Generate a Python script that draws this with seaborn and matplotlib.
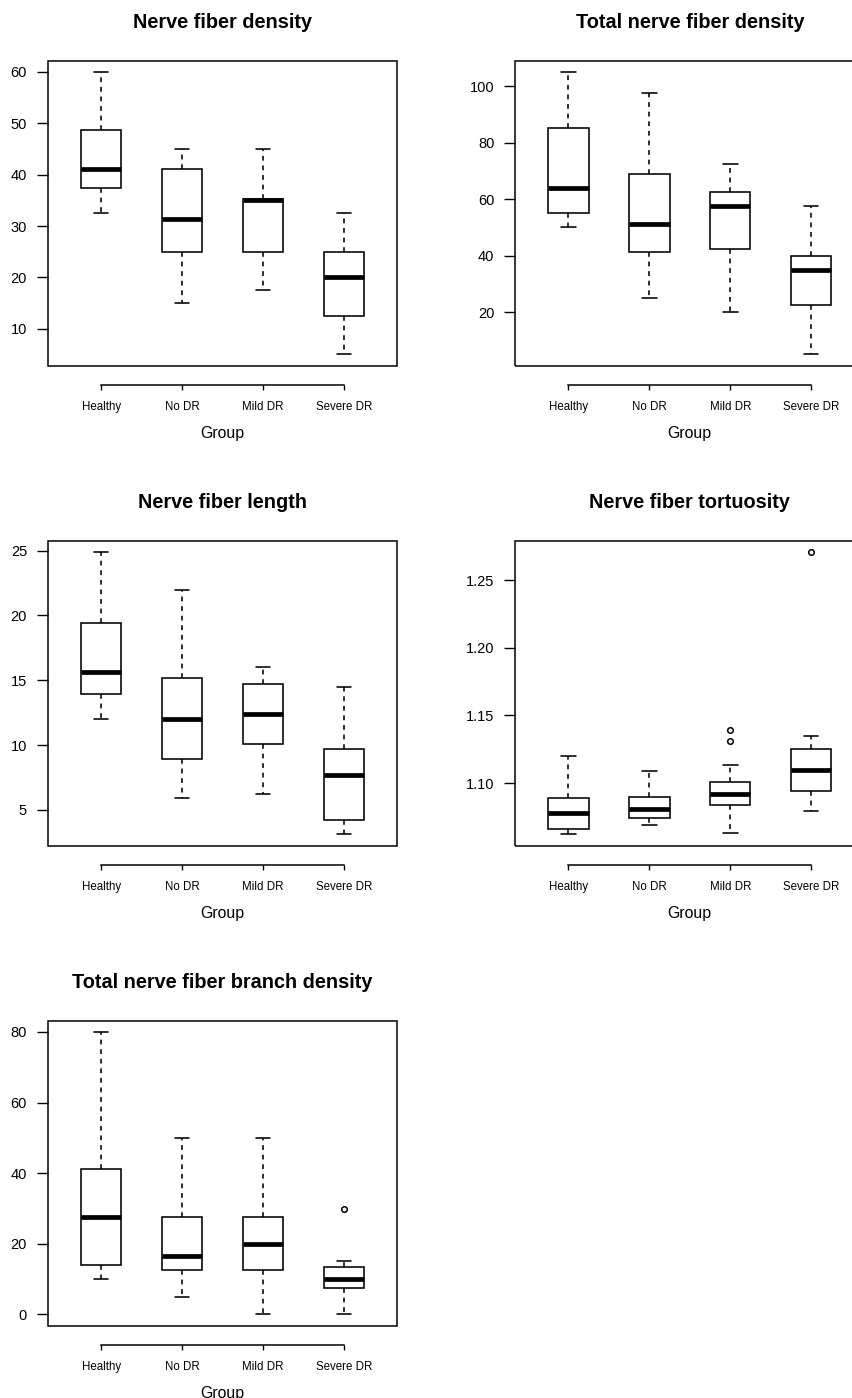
import seaborn as sns
import matplotlib.pyplot as plt
import matplotlib.patches as mpatches
import numpy as np
import pandas as pd

# groups on the x axis
groups = ["Healthy", "No DR", "Mild DR", "Severe DR"]

# box summaries, one row per group:
# [lower whisker, Q1, median, Q3, upper whisker]
nerve_fiber_density = [
    [32.5, 37.5, 41.2, 48.8, 60.0],
    [15.0, 25.0, 31.3, 41.2, 45.0],
    [17.5, 25.0, 35.0, 35.3, 45.0],
    [5.0, 12.5, 20.0, 25.0, 32.5],
]
nerve_fiber_density_out = [[], [], [], []]

total_nerve_fiber_density = [
    [50.0, 55.0, 63.8, 85.2, 105.0],
    [25.0, 41.2, 51.2, 68.8, 97.5],
    [20.0, 42.5, 57.5, 62.5, 72.5],
    [5.0, 22.5, 35.0, 40.0, 57.5],
]
total_nerve_fiber_density_out = [[], [], [], []]

nerve_fiber_length = [
    [12.0, 13.9, 15.6, 19.4, 24.9],
    [5.9, 8.9, 12.0, 15.2, 22.0],
    [6.2, 10.1, 12.4, 14.7, 16.0],
    [3.1, 4.2, 7.7, 9.7, 14.5],
]
nerve_fiber_length_out = [[], [], [], []]

nerve_fiber_tortuosity = [
    [1.062, 1.066, 1.078, 1.089, 1.120],
    [1.069, 1.074, 1.081, 1.090, 1.109],
    [1.063, 1.084, 1.092, 1.101, 1.113],
    [1.079, 1.094, 1.110, 1.125, 1.135],
]
nerve_fiber_tortuosity_out = [[], [], [1.131, 1.139], [1.271]]

branch_density = [
    [10.0, 14.0, 27.5, 41.3, 80.0],
    [5.0, 12.5, 16.5, 27.5, 50.0],
    [0.0, 12.5, 20.0, 27.5, 50.0],
    [0.0, 7.5, 10.0, 13.3, 15.0],
]
branch_density_out = [[], [], [], [30.0]]

titles = ["Nerve fiber density", "Total nerve fiber density", "Nerve fiber length",
          "Nerve fiber tortuosity", "Total nerve fiber branch density"]
summaries = [nerve_fiber_density, total_nerve_fiber_density, nerve_fiber_length,
             nerve_fiber_tortuosity, branch_density]
outliers = [nerve_fiber_density_out, total_nerve_fiber_density_out, nerve_fiber_length_out,
            nerve_fiber_tortuosity_out, branch_density_out]
yticks = [[10, 20, 30, 40, 50, 60], [20, 40, 60, 80, 100], [5, 10, 15, 20, 25],
          [1.10, 1.15, 1.20, 1.25], [0, 20, 40, 60, 80]]
yfmt = ["{:.0f}", "{:.0f}", "{:.0f}", "{:.2f}", "{:.0f}"]


def to_frame(summary, outs):
    # rebuild a small sample whose quartiles equal the read-off summary
    rows = []
    for g, (lo, q1, med, q3, hi), out in zip(groups, summary, outs):
        r = len(out) + 1
        vals = [lo] + [q1] * r + [med] * r + [q3] * r + [hi] + list(out)
        rows += [(g, v) for v in vals]
    return pd.DataFrame(rows, columns=["group", "value"])


sns.set_theme(style="ticks")
plt.rcParams["font.family"] = ["Liberation Sans", "DejaVu Sans"]
plt.rcParams["axes.edgecolor"] = "black"
plt.rcParams["axes.labelcolor"] = "black"
plt.rcParams["xtick.color"] = "black"
plt.rcParams["ytick.color"] = "black"
plt.rcParams["text.color"] = "black"

fig = plt.figure(figsize=(8.53, 13.98), dpi=100)
W, H = 853, 1398
lefts = [47.7, 515.0]
bottoms = [365.7, 845.7, 1325.7]
pw, ph = 349.6, 305.0

for i, (title, summ, outs) in enumerate(zip(titles, summaries, outliers)):
    col, row = i % 2, i // 2
    ax = fig.add_axes([lefts[col] / W, 1 - bottoms[row] / H, pw / W, ph / H])
    df = to_frame(summ, outs)
    sns.boxplot(data=df, x="group", y="value", order=groups, ax=ax,
                color="white", saturation=1, linecolor="black", linewidth=1.15,
                width=0.5, whis=1.6, capwidths=0.18,
                medianprops={"linewidth": 3.4},
                whiskerprops={"linestyle": (0, (3, 3))},
                flierprops={"marker": "o", "markerfacecolor": "white",
                            "markeredgecolor": "black", "markersize": 4,
                            "markeredgewidth": 1.1})
    allv = df["value"]
    span = allv.max() - allv.min()
    ax.set_ylim(allv.min() - 0.04 * span, allv.max() + 0.04 * span)
    ax.set_xlim(-0.66, 3.66)

    # frame and detached x axis first (moving a spine resets its ticks)
    for s in ["top", "right", "left"]:
        ax.spines[s].set_visible(False)
    ax.spines["bottom"].set_position(("outward", 13.9))
    ax.spines["bottom"].set_bounds(0, 3)
    ax.spines["bottom"].set_linewidth(1.1)
    ax.add_patch(mpatches.Rectangle((0, 0), 1, 1, transform=ax.transAxes,
                                    fill=False, edgecolor="black", lw=1.1,
                                    clip_on=False, zorder=5))

    ax.set_yticks(yticks[i])
    ax.set_yticklabels([yfmt[i].format(t) for t in yticks[i]])
    ax.set_xticks(range(len(groups)))
    ax.set_xticklabels(groups)
    ax.tick_params(axis="y", length=7.9, width=1.0, pad=7.0, labelsize=10.5)
    ax.tick_params(axis="x", length=3.6, width=1.0, pad=7.8, labelsize=8.3)

    ax.set_title(title, fontsize=14.3, fontweight="bold", pad=23.3)
    ax.set_xlabel("Group", fontsize=11.4, labelpad=9.5)
    ax.set_ylabel("")

plt.savefig("out.png", dpi=100)
